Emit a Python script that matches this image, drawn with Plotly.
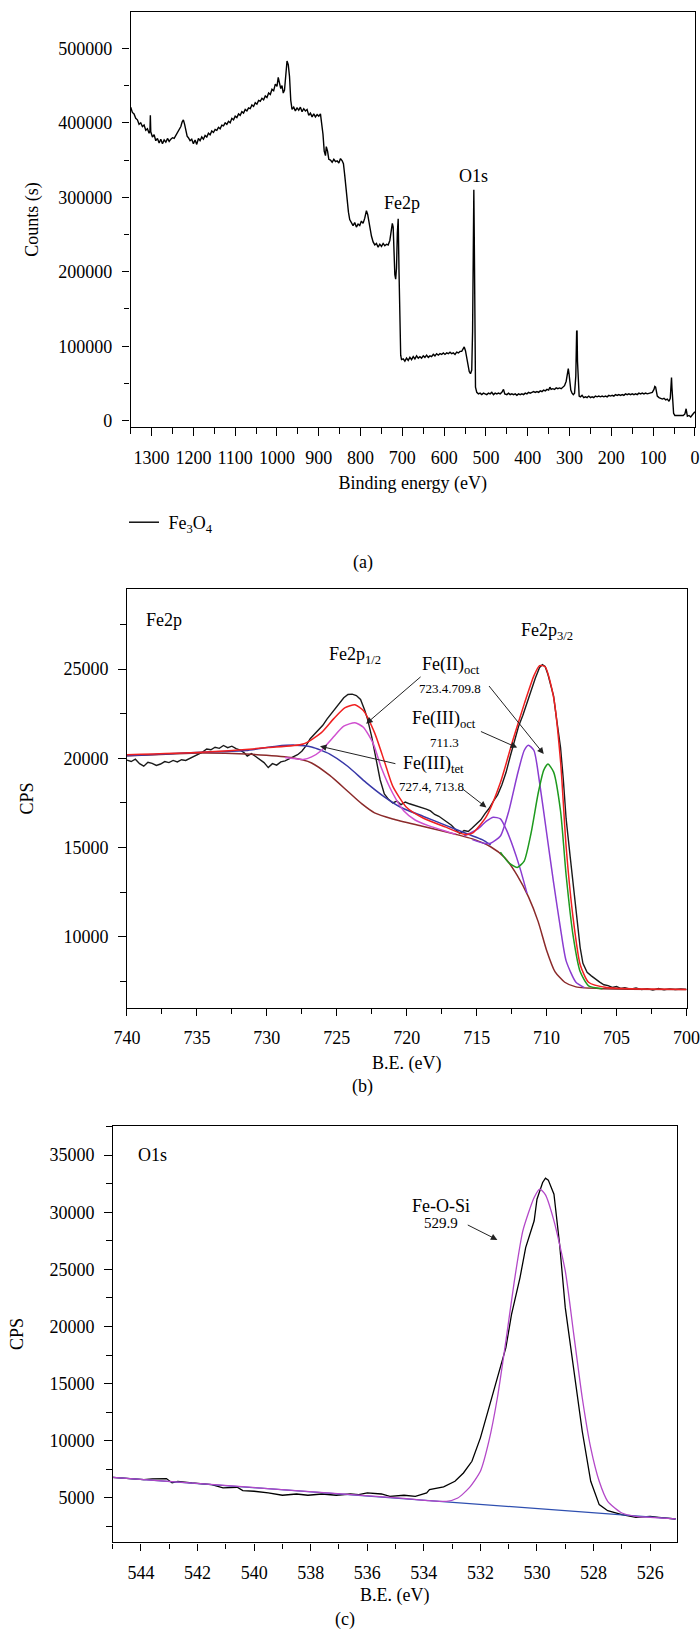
import plotly.graph_objects as go

# ---------------- Panel (a): survey spectrum ----------------
survey_be = [1350, 1346, 1342, 1338, 1334, 1330, 1326, 1322, 1318, 1314, 1310, 1306, 1304, 1303, 1302,
             1298, 1294, 1290, 1286, 1282, 1278, 1274, 1270, 1266, 1262, 1258, 1254, 1250, 1246, 1242,
             1238, 1234, 1230, 1227, 1224, 1221, 1218, 1215, 1212, 1208, 1204, 1200, 1196, 1192, 1188,
             1184, 1180, 1176, 1172, 1168, 1164, 1160, 1156, 1152, 1148, 1144, 1140, 1136, 1132, 1128,
             1124, 1120, 1116, 1112, 1108, 1104, 1100, 1096, 1092, 1088, 1084, 1080, 1076, 1072, 1068,
             1064, 1060, 1056, 1052, 1048, 1044, 1040, 1036, 1032, 1028, 1024, 1020, 1016, 1012, 1008,
             1004, 1000, 997, 994, 991, 988, 985, 982, 979, 976, 973, 970, 967, 964, 960, 956, 952, 948,
             944, 940, 936, 932, 928, 924, 920, 916, 912, 908, 904, 900, 896, 893, 890, 887, 884, 882,
             879, 876, 872, 868, 864, 860, 856, 852, 848, 844, 841, 838, 835, 832, 829, 826, 822, 818,
             814, 810, 806, 802, 798, 794, 790, 786, 783, 780, 777, 774, 770, 766, 762, 758, 754, 750,
             746, 742, 738, 734, 730, 727, 724, 722, 720, 718, 716, 714, 712, 710, 708, 706, 704, 702,
             698, 694, 690, 686, 682, 678, 674, 670, 666, 662, 658, 654, 650, 646, 642, 638, 634, 630,
             626, 622, 618, 614, 610, 606, 602, 598, 594, 590, 586, 582, 578, 574, 570, 566, 562, 558,
             555, 552, 549, 546, 543, 540, 537, 534, 532, 530, 529, 528, 527, 525, 522, 518, 514, 510,
             506, 502, 498, 494, 490, 486, 482, 478, 474, 470, 466, 462, 458, 455, 450, 446, 442, 438,
             434, 430, 426, 422, 418, 414, 410, 406, 402, 398, 394, 390, 386, 382, 378, 374, 370, 366,
             362, 358, 354, 350, 347, 344, 340, 336, 332, 328, 324, 320, 316, 312, 308, 305, 303, 301,
             299, 297, 294, 291, 288, 285, 283, 282, 281, 279, 277, 274, 270, 266, 262, 258, 254, 250,
             246, 242, 238, 234, 230, 226, 222, 218, 214, 210, 206, 202, 198, 194, 190, 186, 182, 178,
             174, 170, 166, 162, 158, 154, 150, 146, 142, 138, 134, 130, 126, 122, 118, 114, 110, 106,
             102, 98, 96, 94, 92, 90, 86, 82, 78, 74, 70, 66, 62, 59, 57, 56, 55, 53, 51, 48, 44, 40,
             36, 32, 28, 24, 22, 21, 20, 18, 14, 10, 6, 3, 0]
survey_counts_k = [421, 414, 412, 406, 404, 398, 400, 395, 397, 390, 392, 386, 389, 410, 388,
                   381, 384, 376, 379, 373, 378, 372, 377, 374, 379, 375, 378, 380, 379, 383,
                   386, 389, 395, 401, 404, 398, 389, 382, 380, 376, 378, 372, 377, 371, 379,
                   376, 381, 378, 383, 381, 386, 384, 389, 387, 391, 390, 394, 392, 397, 396,
                   400, 398, 402, 400, 406, 404, 409, 407, 412, 410, 415, 413, 418, 416, 420,
                   419, 424, 422, 427, 425, 430, 429, 433, 431, 436, 434, 440, 438, 445, 443,
                   452, 449, 461, 455, 446, 450, 440, 444, 468, 483, 478, 462, 430, 418, 421, 416, 420, 417,
                   421, 415, 419, 416, 418, 410, 413, 408, 412, 408, 411, 409, 412, 400, 385, 362, 356, 368,
                   362, 351, 350, 347, 351, 348, 349, 346, 352, 349, 345, 330, 312, 292, 280, 270, 266, 262,
                   266, 260, 264, 262, 268, 265, 272, 282, 277, 268, 254, 248, 240, 236, 238, 233, 237, 234,
                   238, 235, 237, 236, 242, 255, 265, 260, 220, 196, 190, 205, 252, 271, 200, 120, 88, 82,
                   83, 80, 84, 81, 85, 82, 86, 83, 87, 84, 86, 84, 87, 85, 88, 85, 87, 86,
                   89, 87, 90, 88, 90, 89, 91, 89, 91, 90, 92, 90, 91, 89, 92, 91, 93, 93,
                   96, 99, 94, 86, 76, 66, 63, 68, 120, 280, 310, 250, 110, 45, 38, 36, 37, 35,
                   37, 36, 35, 37, 36, 38, 35, 37, 36, 37, 36, 38, 42, 36, 35, 37, 35, 36,
                   35, 36, 34, 36, 35, 36, 35, 37, 36, 38, 37, 38, 39, 38, 39, 38, 40, 39,
                   41, 40, 42, 41, 45, 42, 43, 42, 44, 43, 44, 43, 45, 47, 53, 66, 70, 62,
                   45, 41, 37, 35, 37, 60, 120, 121, 80, 38, 33, 32, 34, 31, 32, 31, 33, 31,
                   32, 31, 33, 32, 33, 32, 33, 32, 33, 32, 34, 33, 34, 33, 35, 34, 35, 34,
                   35, 34, 36, 35, 36, 35, 36, 35, 36, 35, 37, 36, 37, 36, 37, 36, 37, 37,
                   38, 42, 46, 45, 39, 33, 31, 30, 29, 30, 28, 29, 26, 30, 55, 58, 45, 20, 10, 7, 7, 6,
                   7, 6, 7, 9, 14, 16, 12, 6, 7, 5, 8, 10, 12]
survey_counts = [v * 1000 for v in survey_counts_k]

# ---------------- Panel (b): Fe2p ----------------
fe_be = [740.0, 739.7, 739.4, 739.1, 738.8, 738.5, 738.2, 737.9, 737.6, 737.3, 737.0, 736.7, 736.4,
         736.1, 735.8, 735.5, 735.2, 734.9, 734.6, 734.3, 734.0, 733.7, 733.4, 733.1, 732.8, 732.5,
         732.2, 731.9, 731.6, 731.4, 731.1, 730.8, 730.5, 730.2, 729.9, 729.6, 729.3, 729.0, 728.7,
         728.4, 728.1, 727.8, 727.5, 727.2, 726.9, 726.6, 726.3, 726.0, 725.7, 725.4, 725.1, 724.8,
         724.5, 724.2, 723.9, 723.6, 723.3, 723.0, 722.8, 722.5, 722.2, 721.9, 721.6, 721.3, 721.0,
         720.7, 720.4, 720.1, 719.8, 719.5, 719.2, 718.9, 718.6, 718.3, 718.0, 717.7, 717.4, 717.1,
         716.8, 716.5, 716.2, 715.9, 715.6, 715.3, 715.0, 714.7, 714.4, 714.1, 713.8, 713.5, 713.2,
         712.9, 712.6, 712.3, 712.0, 711.7, 711.4, 711.1, 710.8, 710.5, 710.3, 710.1, 709.9, 709.7,
         709.5, 709.3, 709.0, 708.8, 708.6, 708.3, 708.1, 707.9, 707.6, 707.4, 707.1, 706.8, 706.5,
         706.2, 705.9, 705.6, 705.3, 705.0, 704.7, 704.4, 704.0, 703.6, 703.2, 702.8, 702.4, 702.0,
         701.6, 701.2, 700.8, 700.4, 700.0]
fe_cps = [19900, 19820, 19950, 19700, 19560, 19780, 19720, 19600, 19680, 19820, 19760, 19880, 19800,
          19920, 19880, 20000, 20080, 20200, 20350, 20520, 20480, 20620, 20560, 20720, 20600, 20680,
          20540, 20460, 20300, 20120, 20260, 20100, 19950, 19760, 19480, 19700, 19620, 19800, 19860,
          19980, 20100, 20200, 20400, 20700, 21100, 21350, 21600, 21850, 22200, 22500, 22800, 23050,
          23400, 23580, 23600, 23520, 23300, 22700, 22200, 21200, 19900, 18800, 18000, 17700, 17500,
          17600, 17400, 17550, 17450, 17380, 17300, 17200, 17150, 17050, 16850, 16750, 16600, 16400,
          16250, 16000, 15780, 15950, 15900, 16100, 16300, 16550, 16900, 17200, 17600, 17950, 18500,
          19200, 20100, 21000, 21800, 22400, 23100, 23850, 24500, 25100, 25250, 25150, 24700, 24100,
          23500, 22300, 20600, 18800, 16600, 14400, 13000, 11400, 9400, 8500, 8000, 7800, 7600,
          7450, 7300, 7250, 7150, 7200, 7100, 7140, 7050, 7120, 7030, 7080, 7000, 7090,
          7020, 7070, 7030, 7060, 7040]

env_be = [740.0, 734.7, 729.9, 727.4, 726.1, 725.2, 724.4, 723.7, 723.1, 722.3, 721.6, 721.0, 720.0,
          718.8, 717.2, 715.9, 715.3, 714.3, 713.3, 712.4, 711.6, 710.9, 710.5, 710.1, 709.5, 709.0,
          708.6, 708.1, 707.6, 707.0, 705.7, 700.0]
env_cps = [20200, 20340, 20600, 20800, 21440, 22240, 22840, 23000, 22680, 21440, 19840, 18440, 17240,
           16640, 16140, 15740, 15800, 16740, 18640, 21040, 23040, 24640, 25200, 25140, 23440, 19840,
           15040, 11040, 8440, 7440, 7140, 7040]

bg_be = [740.0, 734.7, 731.5, 728.3, 726.8, 725.5, 724.2, 723.2, 722.3, 721.0, 718.8, 716.5, 715.3,
         714.0, 713.0, 712.1, 711.3, 710.6, 710.0, 709.4, 708.7, 707.9, 706.0, 700.0]
bg_cps = [20140, 20300, 20240, 20040, 19740, 19040, 18140, 17440, 16940, 16600, 16180, 15740, 15480,
          15040, 14440, 13440, 12240, 10840, 9240, 8040, 7440, 7180, 7080, 7040]

fe2_oct12_be = [728.7, 727.4, 726.8, 726.1, 725.3, 724.5, 723.7, 723.1, 722.4, 721.8, 721.0, 720.2,
                719.4, 718.5, 716.5]
fe2_oct12_cps = [20040, 19940, 20080, 20440, 21140, 21800, 22000, 21740, 20840, 19440, 18040, 17040,
                 16540, 16240, 15740]

fe3_tet12_be = [740.0, 734.7, 731.5, 729.3, 728.0, 726.8, 725.5, 724.2, 722.9, 721.6, 720.4, 718.8,
                717.2, 715.6, 714.6, 714.0]
fe3_tet12_cps = [20140, 20340, 20440, 20680, 20740, 20640, 20240, 19540, 18640, 17840, 17240, 16740,
                 16240, 15740, 15440, 15140]

fe3_tet32_be = [715.9, 714.9, 714.3, 713.8, 713.3, 712.9, 712.4, 711.9, 711.4]
fe3_tet32_cps = [15640, 16040, 16480, 16700, 16600, 16040, 15040, 13840, 12440]

fe3_oct32_be = [715.3, 714.5, 714.0, 713.3, 712.7, 712.1, 711.6, 711.3, 710.9, 710.5, 710.0, 709.5,
                709.0, 708.6, 707.9, 707.3]
fe3_oct32_cps = [15440, 15240, 15240, 15640, 17040, 19040, 20440, 20740, 20440, 18640, 15840, 13040,
                 10440, 8640, 7440, 7140]

fe2_oct32_be = [713.3, 712.7, 712.1, 711.6, 711.1, 710.6, 710.2, 709.9, 709.5, 709.0, 708.6, 708.1,
                707.6, 707.0, 706.0]
fe2_oct32_cps = [14740, 14140, 13880, 14240, 15840, 18040, 19340, 19680, 19240, 17040, 13440, 10040,
                 8040, 7240, 7080]

# ---------------- Panel (c): O1s ----------------
o_be = [545.0, 544.4, 543.9, 543.6, 543.1, 542.9, 542.7, 542.2, 541.5, 541.1, 540.6, 540.4, 540.0,
        539.5, 539.0, 538.5, 538.1, 537.6, 537.1, 536.6, 536.3, 536.0, 535.5, 535.2, 534.7, 534.3,
        533.9, 533.8, 533.3, 532.9, 532.6, 532.3, 532.0, 531.7, 531.3, 531.1, 530.9, 530.6, 530.4,
        530.1, 530.0, 529.8, 529.7, 529.6, 529.4, 529.2, 529.0, 528.7, 528.4, 528.1, 527.8, 527.5,
        527.0, 526.5, 526.0, 525.7, 525.4, 525.1]
o_cps = [6810, 6700, 6610, 6670, 6700, 6320, 6460, 6320, 6170, 5880, 5940, 5640, 5590,
         5440, 5240, 5350, 5240, 5350, 5240, 5350, 5290, 5440, 5350, 5150, 5240, 5150,
         5440, 5730, 5970, 6460, 7190, 8210, 10260, 12890, 16390, 18150, 21070, 24280, 26910,
         29250, 31140, 32600, 32980, 32810, 31580, 27200, 21650, 16390, 10840, 6460, 4420, 3890,
         3540, 3310, 3400, 3310, 3250, 3160]

o_bg_be = [545.0, 525.1]
o_bg_cps = [6810, 3180]

o_fit_be = [545.0, 534.7, 533.8, 533.2, 532.8, 532.4, 532.0, 531.7, 531.4, 531.1, 530.8, 530.5, 530.1,
            529.9, 529.7, 529.4, 529.0, 528.7, 528.4, 528.1, 527.8, 527.5, 527.0, 526.5, 526.0, 525.1]
o_fit_cps = [6810, 4960, 4770, 4710, 5000, 5880, 7340, 9970, 13770, 18730, 23990, 28370, 31290,
             32020, 31520, 29250, 24860, 19310, 13770, 9380, 6460, 4710, 3690, 3400, 3310, 3180]

FONT = "Liberation Serif"
W, H = 700, 1644

fig = go.Figure()

fig.add_trace(go.Scatter(x=survey_be, y=survey_counts, mode="lines",
                         name="\u00a0Fe<sub>3</sub>O<sub>4</sub>",
                         line=dict(color="black", width=1.4), xaxis="x", yaxis="y", showlegend=True))

spl = dict(shape="spline", smoothing=0.6)
fig.add_trace(go.Scatter(x=fe_be, y=fe_cps, mode="lines", line=dict(color="#1a1a1a", width=1.4),
                         xaxis="x2", yaxis="y2", showlegend=False))
for bx, by, col in [(bg_be, bg_cps, "#8B2A2A"), (fe3_tet12_be, fe3_tet12_cps, "#3838A8"),
                    (fe2_oct12_be, fe2_oct12_cps, "#D050D0"), (fe3_tet32_be, fe3_tet32_cps, "#8A3CD0"),
                    (fe3_oct32_be, fe3_oct32_cps, "#8A3CD0"), (fe2_oct32_be, fe2_oct32_cps, "#1E9A1E"),
                    (env_be, env_cps, "#F02020")]:
    fig.add_trace(go.Scatter(x=bx, y=by, mode="lines", line=dict(color=col, width=1.5, **spl),
                             xaxis="x2", yaxis="y2", showlegend=False))

fig.add_trace(go.Scatter(x=o_be, y=o_cps, mode="lines", line=dict(color="black", width=1.3),
                         xaxis="x3", yaxis="y3", showlegend=False))
fig.add_trace(go.Scatter(x=o_bg_be, y=o_bg_cps, mode="lines", line=dict(color="#2E4FB0", width=1.2),
                         xaxis="x3", yaxis="y3", showlegend=False))
fig.add_trace(go.Scatter(x=o_fit_be, y=o_fit_cps, mode="lines", line=dict(color="#B348C8", width=1.3, **spl),
                         xaxis="x3", yaxis="y3", showlegend=False))


def xdom(l, r):
    return [l / W, r / W]


def ydom(t, b):
    return [1 - b / H, 1 - t / H]


tickfont = dict(family=FONT, size=18, color="black")
common = dict(showline=True, mirror=True, linecolor="black", linewidth=1.2, showgrid=False,
              zeroline=False, ticks="outside", ticklen=7.5, tickwidth=1.2, tickcolor="black",
              tickfont=tickfont, automargin=False)


def ax(domain, anchor, rng, dtick, minor, title, standoff, lstand, **kw):
    d = dict(common)
    d.update(domain=domain, anchor=anchor, range=rng, dtick=dtick, tick0=0,
             minor=dict(dtick=minor, ticks="outside", ticklen=5.5, tickwidth=1.2, tickcolor="black"),
             title=dict(text=title, font=dict(family=FONT, size=18, color="black"), standoff=standoff),
             ticklabelstandoff=lstand)
    d.update(kw)
    return d


fig.update_layout(
    width=W, height=H, margin=dict(l=0, r=0, t=0, b=0),
    paper_bgcolor="white", plot_bgcolor="white",
    font=dict(family=FONT, size=18, color="black"),
    xaxis=ax(xdom(130.5, 695), "y", [1350.5, -0.2], 100, 50, "Binding energy (eV)", 9, 6),
    yaxis=ax(ydom(11.5, 427.3), "x", [-8900, 549500], 100000, 50000, "Counts (s)", 14, 6, tickformat="d"),
    xaxis2=ax(xdom(126.7, 686.7), "y2", [740.02, 699.98], 5, 2.5, "B.E. (eV)", 9, 6),
    yaxis2=ax(ydom(589.3, 1007.5), "x2", [6024, 29480], 5000, 2500, "CPS", 25, 6, tickformat="d"),
    xaxis3=ax(xdom(112.7, 677), "y3", [545, 525.05], 2, 1, "B.E. (eV)", 6, 6),
    yaxis3=ax(ydom(1125.7, 1542.4), "x3", [1115, 37570], 5000, 2500, "CPS", 21, 6, tickformat="d"),
    legend=dict(x=124 / W, y=1 - 522.5 / H, xanchor="left", yanchor="middle",
                font=dict(family=FONT, size=18), bgcolor="rgba(0,0,0,0)"),
)

ann = []


def label(text, x, y, xr, yr, size=18, **kw):
    d = dict(text=text, x=x, y=y, xref=xr, yref=yr, showarrow=False,
             font=dict(family=FONT, size=size, color="black"))
    d.update(kw)
    ann.append(d)


def arrow(x, y, axv, ayv, xr, yr):
    ann.append(dict(text="", x=x, y=y, ax=axv, ay=ayv, xref=xr, yref=yr, axref=xr, ayref=yr,
                    showarrow=True, arrowhead=2, arrowsize=1.3, arrowwidth=1, arrowcolor="#222"))


# panel a
label("Fe2p", 701, 292600, "x", "y")
label("O1s", 528.7, 328200, "x", "y")
label("(a)", 363 / W, 1 - 562 / H, "paper", "paper")

# panel b
label("Fe2p", 738.8, 27740, "x2", "y2", xanchor="left")
label("Fe2p<sub>1/2</sub>", 723.7, 25740, "x2", "y2")
label("Fe2p<sub>3/2</sub>", 710.0, 27140, "x2", "y2")
label("Fe(II)<sub>oct</sub>", 716.8, 25200, "x2", "y2")
label("723.4.709.8", 716.9, 23940, "x2", "y2", size=13)
label("Fe(III)<sub>oct</sub>", 717.3, 22200, "x2", "y2")
label("711.3", 717.3, 20900, "x2", "y2", size=13)
label("Fe(III)<sub>tet</sub>", 718.1, 19680, "x2", "y2")
label("727.4, 713.8", 718.2, 18400, "x2", "y2", size=13)
arrow(722.9, 21940, 718.9, 24640, "x2", "y2")
arrow(710.2, 20240, 714.2, 24140, "x2", "y2")
arrow(712.1, 20600, 714.8, 21540, "x2", "y2")
arrow(726.2, 20680, 720.7, 19680, "x2", "y2")
arrow(714.3, 17240, 716.1, 18340, "x2", "y2")
label("(b)", 362 / W, 1 - 1099 / H, "paper", "paper")

# panel c
label("O1s", 543.6, 35000, "x3", "y3")
label("Fe-O-Si", 533.4, 30560, "x3", "y3")
label("529.9", 533.4, 29100, "x3", "y3", size=15)
arrow(531.4, 27580, 532.5, 28950, "x3", "y3")
label("(c)", 345 / W, 1 - 1632 / H, "paper", "paper")

fig.update_layout(annotations=ann)

fig.write_html("out.html", config={"displayModeBar": False},
               post_script="document.body.style.margin='0';document.body.style.overflow='hidden';")
